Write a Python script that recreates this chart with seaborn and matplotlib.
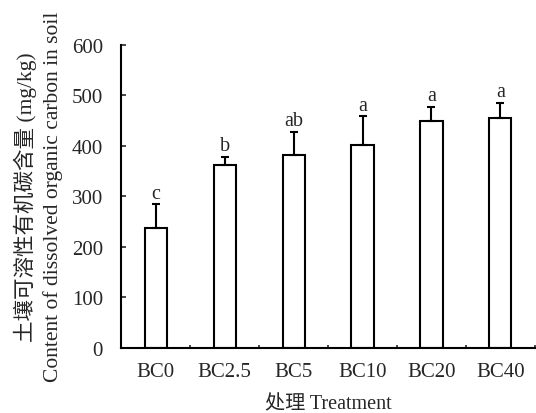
import numpy as np
import pandas as pd
import matplotlib
matplotlib.use('Agg')
import matplotlib.pyplot as plt
import seaborn as sns

# ---- data ----
treatments = ['BC0', 'BC2.5', 'BC5', 'BC10', 'BC20', 'BC40']
doc_mean = [237, 361, 382, 402, 449, 455]
doc_err = [47, 17, 46, 56, 28, 30]
sig_letters = ['c', 'b', 'ab', 'a', 'a', 'a']

sns.set_theme(style='ticks')
plt.rcParams['font.family'] = ['Liberation Serif', 'Noto Sans CJK SC']
plt.rcParams['axes.unicode_minus'] = False

df = pd.DataFrame({'Treatment': treatments, 'DOC': doc_mean, 'SE': doc_err})

fig = plt.figure(figsize=(5.36, 4.14), dpi=100)
ax = fig.add_axes([0.226, 0.157, 0.772, 0.733])

sns.barplot(data=df, x='Treatment', y='DOC', ax=ax, color='white',
            edgecolor='black', linewidth=1.5, width=0.32, errorbar=None,
            saturation=1)

x_pos = np.arange(len(treatments))
ax.errorbar(x_pos, df['DOC'], yerr=[np.zeros(len(doc_err)), df['SE']],
            fmt='none', ecolor='black', elinewidth=1.5, capsize=3,
            capthick=1.5)

for i, (m, e, lab) in enumerate(zip(doc_mean, doc_err, sig_letters)):
    ax.annotate(lab, (i, m + e), xytext=(0, 1), textcoords='offset points',
                ha='center', va='bottom', fontsize=14.5)

ax.set_ylim(0, 600)
ax.set_xlim(-0.5, len(treatments) - 0.5)
ax.set_yticks(range(0, 601, 100))
ax.tick_params(axis='y', direction='in', length=3.5, width=1.2, labelsize=15, pad=13)
ax.tick_params(axis='x', which='major', length=0, labelsize=15, pad=10)
ax.set_xticks(np.arange(0.5, len(treatments), 1.0), minor=True)
ax.tick_params(axis='x', which='minor', direction='in', length=2.5, width=1.2)

for s in ['top', 'right']:
    ax.spines[s].set_visible(False)
for s in ['left', 'bottom']:
    ax.spines[s].set_linewidth(1.5)
    ax.spines[s].set_color('black')

ax.set_xlabel('处理 Treatment', fontsize=14.5, labelpad=9.5)
ax.set_ylabel('土壤可溶性有机碳含量 (mg/kg)\nContent of dissolved organic carbon in soil',
              fontsize=15.5, linespacing=1.4)
ax.yaxis.set_label_coords(-0.14, 0.5)

fig.savefig('out.png', dpi=100, facecolor='white')
